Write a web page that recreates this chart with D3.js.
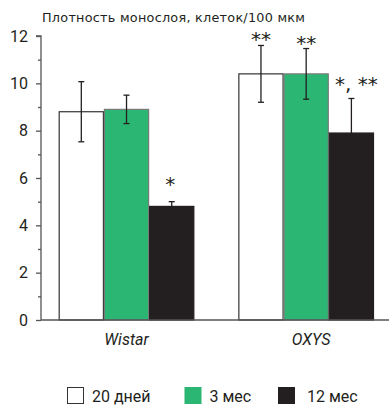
<!DOCTYPE html>
<html><head><meta charset="utf-8">
<script src="https://cdn.jsdelivr.net/npm/d3@7"></script>
<style>body{margin:0;background:#fff}svg{display:block}</style>
</head><body>
<script>
const groups = ["Wistar", "OXYS"];
const series = ["20 дней", "3 мес", "12 мес"];
const values = [[8.8, 8.9, 4.8], [10.4, 10.4, 7.9]];
const errors = [[1.27, 0.6, 0.2], [1.2, 1.07, 1.46]];
const marks = [["", "", "*"], ["**", "**", "*, **"]];
const majorTicks = [0, 2, 4, 6, 8, 10, 12];
const minorTicks = [1, 3, 5, 7, 9, 11];
const title = "Плотность монослоя, клеток/100 мкм";

const colors = ["#ffffff", "#2bb673", "#231f20"];
const strokes = ["#333333", "#7a7a7a", "#231f20"];

const W = 389, H = 405;
const svg = d3.select("body").append("svg").attr("width", W).attr("height", H);
const font = "Roboto, 'DejaVu Sans', sans-serif";

const y = d3.scaleLinear().domain([0, 12]).range([320, 36]);
const x0 = d3.scaleBand().domain(groups).range([58.7, 374]).paddingInner(0.245).paddingOuter(0);
const x1 = d3.scaleBand().domain(series).range([0, x0.bandwidth()]).padding(0);

// title
const tt = svg.append("text").attr("x", 42).attr("y", 22).attr("font-family", "'DejaVu Sans', sans-serif")
  .attr("font-size", 12.8).attr("fill", "#231f20").text(title);
const tw = tt.node().getComputedTextLength();
if (Math.abs(tw - 263) > 3) tt.attr("textLength", 263).attr("lengthAdjust", "spacing");

// y axis
const axisColor = "#555";
const gy = svg.append("g").attr("transform", "translate(41,0)");
gy.call(d3.axisLeft(y).tickValues(majorTicks).tickSize(5).tickPadding(8).tickFormat(d3.format("d")));
gy.selectAll(".tick text").attr("font-family", font).attr("font-size", 16).attr("fill", "#231f20");
gy.selectAll("path.domain, .tick line").attr("stroke", axisColor).attr("stroke-width", 1.3);
const gm = svg.append("g").attr("transform", "translate(41,0)");
gm.call(d3.axisLeft(y).tickValues(minorTicks).tickSize(3).tickFormat(""));
gm.select("path.domain").remove();
gm.selectAll(".tick line").attr("stroke", axisColor).attr("stroke-width", 1.3);
gy.select("path.domain").attr("d", `M-5,${y(12)}H0V${y(0)}`);

// bars
const gg = svg.selectAll("g.grp").data(groups).join("g").attr("class", "grp")
  .attr("transform", d => `translate(${x0(d)},0)`);
gg.each(function(g, gi) {
  const sel = d3.select(this);
  series.forEach((s, si) => {
    const v = values[gi][si];
    const bx = x1(s), bw = x1.bandwidth();
    sel.append("rect").attr("x", bx + 0.5).attr("y", y(v)).attr("width", bw - 1)
      .attr("height", y(0) - y(v)).attr("fill", colors[si]).attr("stroke", strokes[si]).attr("stroke-width", 1.2);
  });
});
// error bars & significance marks
gg.each(function(g, gi) {
  const sel = d3.select(this);
  series.forEach((s, si) => {
    const v = values[gi][si], e = errors[gi][si];
    const cx = x1(s) + x1.bandwidth() / 2;
    const ec = "#231f20";
    sel.append("line").attr("x1", cx).attr("x2", cx).attr("y1", y(v + e)).attr("y2", y(v - e))
      .attr("stroke", ec).attr("stroke-width", 1.3);
    [v + e, v - e].forEach(t => sel.append("line").attr("x1", cx - 3).attr("x2", cx + 3)
      .attr("y1", y(t)).attr("y2", y(t)).attr("stroke", ec).attr("stroke-width", 1.3));
    const m = marks[gi][si];
    if (m) {
      const isLong = m.length > 2;
      const single = m.length === 1;
      const ty = isLong ? y(v + e) - 7 : single ? y(v + e) - 11 : y(v + e) + 1;
      sel.append("text").attr("x", isLong ? cx + 5 : cx - (single ? 1.5 : 0)).attr("y", ty)
        .attr("text-anchor", "middle").attr("font-family", "'DejaVu Sans', sans-serif")
        .attr("font-size", 20).attr("fill", "#231f20").text(m);
    }
  });
});

// baseline
svg.append("line").attr("x1", 41).attr("x2", W).attr("y1", y(0)).attr("y2", y(0))
  .attr("stroke", axisColor).attr("stroke-width", 1.5);

// group labels
svg.selectAll("text.gl").data(groups).join("text").attr("class", "gl")
  .attr("x", d => x0(d) + x0.bandwidth() / 2 + (d === "OXYS" ? 5 : 0)).attr("y", 345)
  .attr("text-anchor", "middle").attr("font-family", font).attr("font-style", "italic")
  .attr("font-size", 16).attr("fill", "#231f20").text(d => d);

// legend
const legX = [67, 184.5, 278];
series.forEach((s, i) => {
  svg.append("rect").attr("x", legX[i] + 0.5).attr("y", 387.5).attr("width", 16).attr("height", 16)
    .attr("fill", colors[i]).attr("stroke", i === 0 ? "#333" : colors[i]).attr("stroke-width", 1);
  svg.append("text").attr("x", legX[i] + (i === 2 ? 29 : 25)).attr("y", 402).attr("font-family", font)
    .attr("font-size", 16).attr("fill", "#231f20").text(s);
});
</script>
</body></html>
